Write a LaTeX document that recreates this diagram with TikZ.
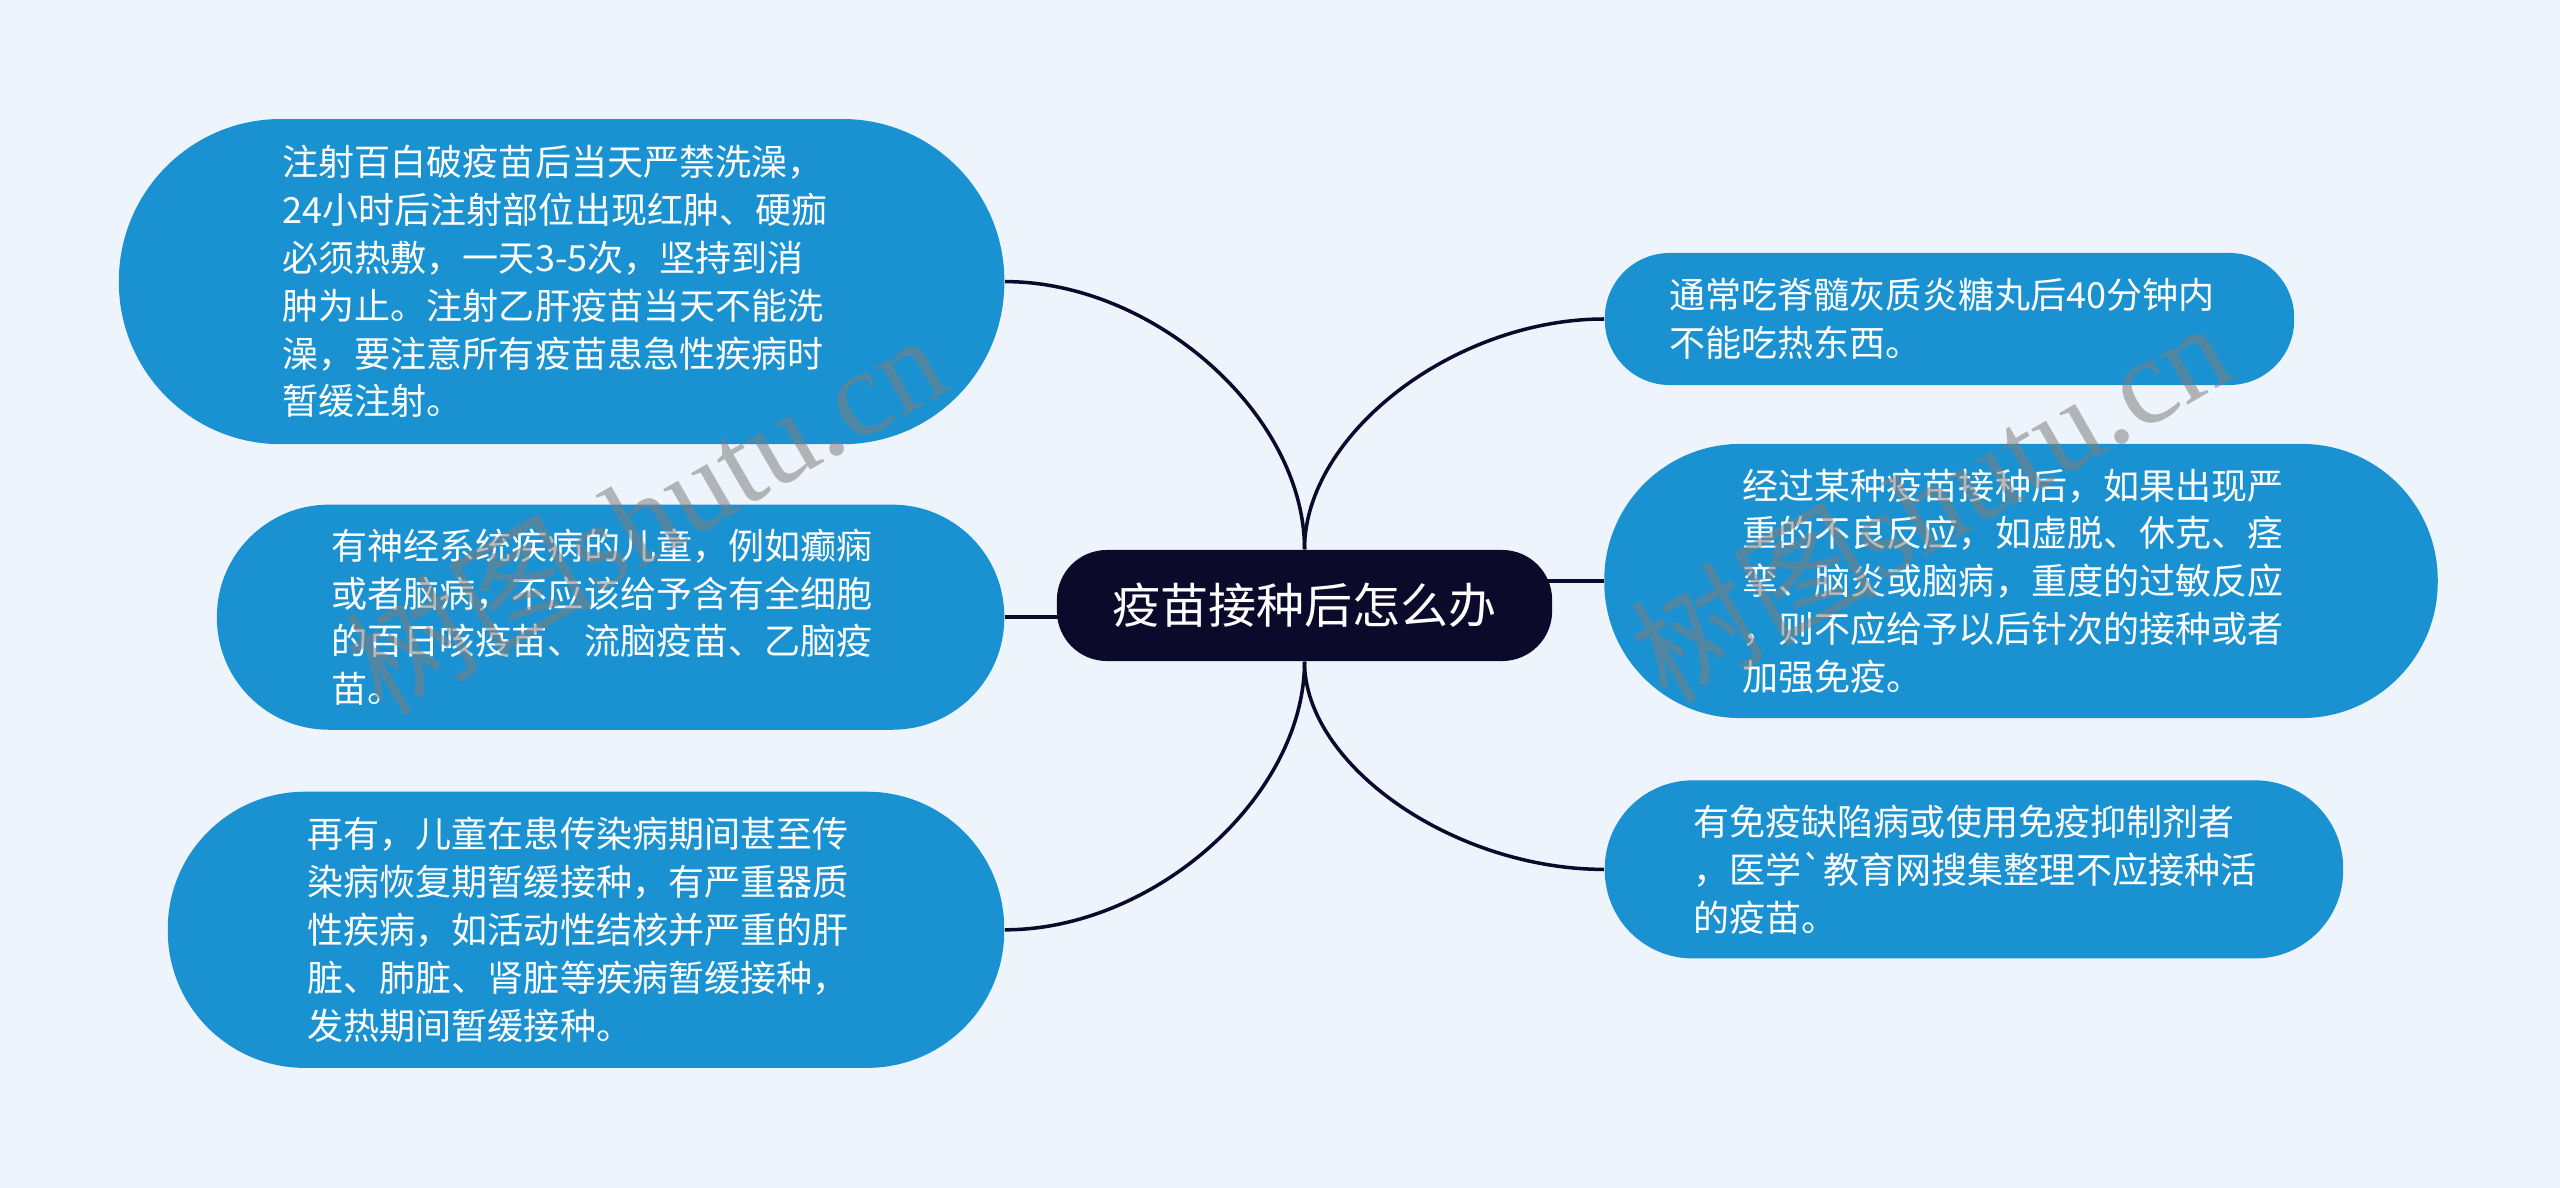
\documentclass[tikz,border=0pt]{standalone}
\usepackage{fontspec}
\newfontfamily\cjk[Ligatures=TeXOff]{Noto Sans CJK SC}
\newfontfamily\wmserif{Liberation Serif}
\usetikzlibrary{calc}
\definecolor{bgc}{HTML}{EEF4FC}
\definecolor{nodeblue}{HTML}{1A91D0}
\definecolor{navy}{HTML}{0C0A2B}
\pgfdeclarelayer{bg}
\pgfdeclarelayer{edges}
\pgfdeclarelayer{top}
\pgfsetlayers{bg,edges,main,top}
\tikzset{
  box/.style={fill=nodeblue, draw=none, inner sep=0pt, rectangle},
  txt/.style={text=white, align=left, inner sep=0pt, anchor=west,
    font=\cjk\fontsize{10.25pt}{13.6pt}\selectfont},
  root/.style={fill=navy, text=white, rounded corners=0.5cm,
    minimum width=4.95cm, minimum height=1.11cm, inner sep=0pt,
    font=\cjk\fontsize{13.66pt}{16pt}\selectfont},
  link/.style={draw=navy, line width=1pt},
  wm/.style={text=gray, text opacity=0.55, inner sep=0pt, rotate=30,
    font=\fontsize{35pt}{35pt}\selectfont}
}
\begin{document}
\begin{tikzpicture}[x=0.01cm, y=-0.01cm]
\useasboundingbox (0,0) rectangle (2560,1188);
\begin{pgfonlayer}{bg}
  \fill[bgc] (0,0) rectangle (2560,1188);
\end{pgfonlayer}

% central node
\node[root] (C) at (1304.5,605.5) {疫苗接种后怎么办};

% left boxes
\node[box, minimum width=8.85cm, minimum height=3.25cm, rounded corners=1.62cm] (L1) at (561.6,281.6) {};
\node[box, minimum width=7.87cm, minimum height=2.25cm, rounded corners=1.12cm] (L2) at (610.6,617.2) {};
\node[box, minimum width=8.36cm, minimum height=2.76cm, rounded corners=1.37cm] (L3) at (586,929.8) {};
% right boxes
\node[box, minimum width=6.89cm, minimum height=1.32cm, rounded corners=0.65cm] (R1) at (1949.5,319) {};
\node[box, minimum width=8.33cm, minimum height=2.74cm, rounded corners=1.36cm] (R2) at (2021,581) {};
\node[box, minimum width=7.38cm, minimum height=1.78cm, rounded corners=0.88cm] (R3) at (1974,869.4) {};

% texts
\node[txt] (L1t) at (282,281.6) {注射百白破疫苗后当天严禁洗澡，\\24小时后注射部位出现红肿、硬痂\\必须热敷，一天3-5次，坚持到消\\肿为止。注射乙肝疫苗当天不能洗\\澡，要注意所有疫苗患急性疾病时\\暂缓注射。};
\node[txt] (L2t) at (331,617.2) {有神经系统疾病的儿童，例如癫痫\\或者脑病，不应该给予含有全细胞\\的百日咳疫苗、流脑疫苗、乙脑疫\\苗。};
\node[txt] (L3t) at (307,929.8) {再有，儿童在患传染病期间甚至传\\染病恢复期暂缓接种，有严重器质\\性疾病，如活动性结核并严重的肝\\脏、肺脏、肾脏等疾病暂缓接种，\\发热期间暂缓接种。};
\node[txt] (R1t) at (1669,319) {通常吃脊髓灰质炎糖丸后40分钟内\\不能吃热东西。};
\node[txt] (R2t) at (1742,581) {经过某种疫苗接种后，如果出现严\\重的不良反应，如虚脱、休克、痉\\挛、脑炎或脑病，重度的过敏反应\\，则不应给予以后针次的接种或者\\加强免疫。};
\node[txt] (R3t) at (1693,869.4) {有免疫缺陷病或使用免疫抑制剂者\\，医学`教育网搜集整理不应接种活\\的疫苗。};

% connectors
\begin{pgfonlayer}{edges}
  \coordinate (m1) at ($(L1.east)!.5!(C.north)$);
  \coordinate (m2) at ($(R1.west)!.5!(C.north)$);
  \coordinate (m3) at ($(L3.east)!.5!(C.south)$);
  \coordinate (m4) at ($(R3.west)!.5!(C.south)$);
  \draw[link] (L1.east) .. controls (m1 |- L1.east) and (C.north |- m1) .. (C.north);
  \draw[link] (C.north) .. controls (C.north |- m2) and (m2 |- R1.west) .. (R1.west);
  \draw[link] (L3.east) .. controls (m3 |- L3.east) and (C.south |- m3) .. (C.south);
  \draw[link] (C.south) .. controls (C.south |- m4) and (m4 |- R3.west) .. (R3.west);
  \draw[link] (C.center |- L2.east) -- (L2.east);
  \draw[link] (C.center |- R2.west) -- (R2.west);
\end{pgfonlayer}

% watermarks
\begin{pgfonlayer}{top}
  \node[wm] (wm1) at (645,512) {{\cjk 树图}{\wmserif shutu.cn}};
  \node[wm] (wm2) at (1930,500) {{\cjk 树图}{\wmserif shutu.cn}};
\end{pgfonlayer}
\end{tikzpicture}
\end{document}
